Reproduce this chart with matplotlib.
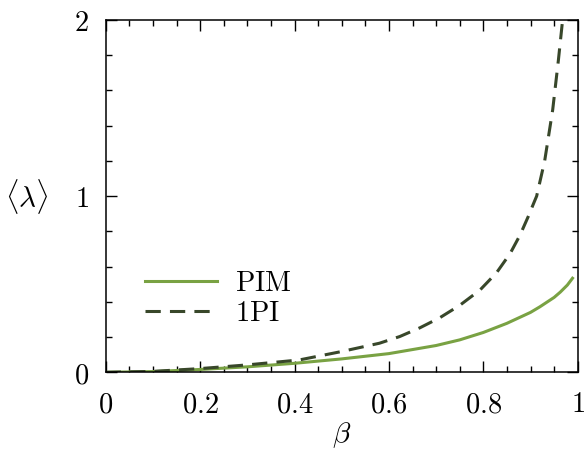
import matplotlib
matplotlib.use("Agg")
import matplotlib.pyplot as plt
from matplotlib.ticker import MultipleLocator

# data
beta_pim = [0, 0.1, 0.2, 0.3, 0.4, 0.5, 0.6, 0.7, 0.75, 0.8, 0.85, 0.9, 0.92, 0.95, 0.963,
            0.978, 0.989]
pim = [0, 0.004, 0.016, 0.031, 0.051, 0.076, 0.106, 0.152, 0.184, 0.226, 0.278, 0.34, 0.372, 0.425,
       0.455, 0.495, 0.534]

beta_1pi = [0, 0.1, 0.2, 0.3, 0.41, 0.5, 0.58, 0.623, 0.666, 0.708, 0.75, 0.793, 0.828, 0.857,
            0.878, 0.895, 0.906, 0.913, 0.93, 0.947, 0.959, 0.968]
onepi = [0, 0.005, 0.021, 0.042, 0.07, 0.118, 0.165, 0.203, 0.253, 0.31, 0.38, 0.467, 0.565, 0.675,
         0.78, 0.883, 0.955, 1.0, 1.2, 1.49, 1.77, 2.0]

xticks = [0, 0.2, 0.4, 0.6, 0.8, 1]
xticklabels = ["$0$", "$0.2$", "$0.4$", "$0.6$", "$0.8$", "$1$"]
yticks = [0, 1, 2]
yticklabels = ["$0$", "$1$", "$2$"]

plt.rcParams["mathtext.fontset"] = "cm"

fig = plt.figure(figsize=(5.88, 4.5), dpi=100)
ax = fig.add_axes([0.1798, 0.1727, 0.8027, 0.7829])

ax.plot(beta_pim, pim, color="#79a243", lw=2.2, label=r"$\mathrm{PIM}$")
ax.plot(beta_1pi, onepi, color="#38472a", lw=2.2, dashes=(5.0, 3.0), label=r"$\mathrm{1PI}$")

ax.set_xlim(0, 1)
ax.set_ylim(0, 2)
ax.set_xticks(xticks)
ax.set_xticklabels(xticklabels)
ax.set_yticks(yticks)
ax.set_yticklabels(yticklabels)
ax.xaxis.set_minor_locator(MultipleLocator(0.05))
ax.yaxis.set_minor_locator(MultipleLocator(0.2))
ax.tick_params(which="both", direction="in", top=True, right=True, labelsize=20.5, width=1)
ax.tick_params(which="major", length=8)
ax.tick_params(which="minor", length=4)
ax.tick_params(axis="x", which="major", pad=13)
ax.tick_params(axis="y", which="major", pad=12)
for s in ax.spines.values():
    s.set_linewidth(1.1)

ax.set_xlabel(r"$\beta$", fontsize=21)
ax.xaxis.set_label_coords(0.5, -0.178)
ax.xaxis.label.set_verticalalignment("center")
ax.set_ylabel(r"$\langle\lambda\rangle$", fontsize=21, rotation=0)
ax.yaxis.set_label_coords(-0.167, 0.5)
ax.yaxis.label.set_verticalalignment("center")

ax.legend(loc="center left", bbox_to_anchor=(0.083, 0.211), frameon=False, fontsize=20.5,
          borderpad=0, borderaxespad=0, handlelength=2.53, handletextpad=0.63, labelspacing=0.07)

fig.savefig("out.png", dpi=100)
